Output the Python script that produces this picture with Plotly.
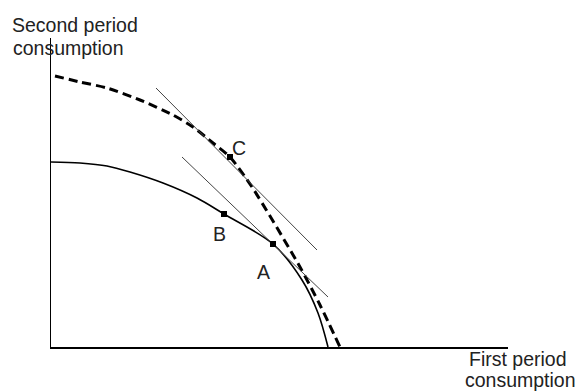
import plotly.graph_objects as go

# --- data (chart units: origin at axes corner) ---
solid_x = [0, 2.9, 5.6, 7.9, 11.2, 14.6, 17.3, 22.2, 25.1, 26.7, 27.7]
solid_y = [18.5, 18.4, 18.1, 17.5, 16.4, 14.9, 13.3, 10.3, 6.7, 3.4, 0]

dash_x = [0.4, 2.9, 5.6, 8.9, 12.2, 14.2, 16.2, 17.9, 20.1, 24.9, 26.9, 28.9]
dash_y = [27.1, 26.5, 25.9, 24.7, 23.2, 22.0, 20.4, 19.0, 16.0, 8.0, 4.2, 0]

tan_upper_x = [10.5, 26.6]
tan_upper_y = [25.9, 9.7]
tan_lower_x = [13.1, 27.7]
tan_lower_y = [19.0, 5.0]

point_names = ["C", "B", "A"]
point_x = [17.9, 17.3, 22.2]
point_y = [19.0, 13.3, 10.3]
label_x = [18.8, 16.8, 21.2]
label_y = [19.9, 11.3, 7.5]

y_title = ["Second period", "consumption"]
x_title = ["First period", "consumption"]

X_MAX, Y_MAX = 45.7, 30.9
W, H = 576, 391
L, R, T, B = 51, 68, 38, 44

fig = go.Figure()
fig.add_trace(go.Scatter(x=solid_x, y=solid_y, mode="lines",
                         line=dict(color="black", width=1.6, shape="spline", smoothing=0.9),
                         hoverinfo="skip"))
fig.add_trace(go.Scatter(x=dash_x, y=dash_y, mode="lines",
                         line=dict(color="black", width=3, dash="9px,5px", shape="spline", smoothing=0.7),
                         hoverinfo="skip"))
for tx, ty in [(tan_upper_x, tan_upper_y), (tan_lower_x, tan_lower_y)]:
    fig.add_trace(go.Scatter(x=tx, y=ty, mode="lines",
                             line=dict(color="#444", width=1), hoverinfo="skip"))
fig.add_trace(go.Scatter(x=point_x, y=point_y, mode="markers",
                         marker=dict(symbol="square", size=6, color="black"),
                         hoverinfo="skip"))

font = dict(family="Liberation Sans, Arial, sans-serif", size=19.5, color="#222")
for n, lx, ly in zip(point_names, label_x, label_y):
    fig.add_annotation(x=lx, y=ly, text=n, showarrow=False, font=font,
                       xanchor="center", yanchor="middle")

def px_to_paper(px, py):
    return (px - L) / (W - L - R), (H - B - py) / (H - T - B)

for txt, (px, py) in zip(y_title, [(10, 25), (11, 48)]):
    xp, yp = px_to_paper(px, py)
    fig.add_annotation(x=xp, y=yp, xref="paper", yref="paper", text=txt, showarrow=False,
                       font=font, xanchor="left", yanchor="middle")
for txt, (px, py) in zip(x_title, [(468, 359), (464, 380)]):
    xp, yp = px_to_paper(px, py)
    fig.add_annotation(x=xp, y=yp, xref="paper", yref="paper", text=txt, showarrow=False,
                       font=font, xanchor="left", yanchor="middle", borderpad=0)

fig.update_xaxes(range=[0, X_MAX], showgrid=False, zeroline=False, showticklabels=False,
                 ticks="", showline=True, linecolor="black", linewidth=1.5)
fig.update_yaxes(range=[0, Y_MAX], showgrid=False, zeroline=False, showticklabels=False,
                 ticks="", showline=True, linecolor="black", linewidth=1.5)
fig.update_layout(width=W, height=H, margin=dict(l=L, r=R, t=T, b=B),
                  plot_bgcolor="white", paper_bgcolor="white", showlegend=False)
fig.write_html("out.html", config={"displayModeBar": False, "staticPlot": True})

with open("out.html", "r", encoding="utf-8") as f:
    html = f.read()
html = html.replace("<head>", "<head><style>html,body{margin:0;padding:0;overflow:hidden;}</style>", 1)
with open("out.html", "w", encoding="utf-8") as f:
    f.write(html)
